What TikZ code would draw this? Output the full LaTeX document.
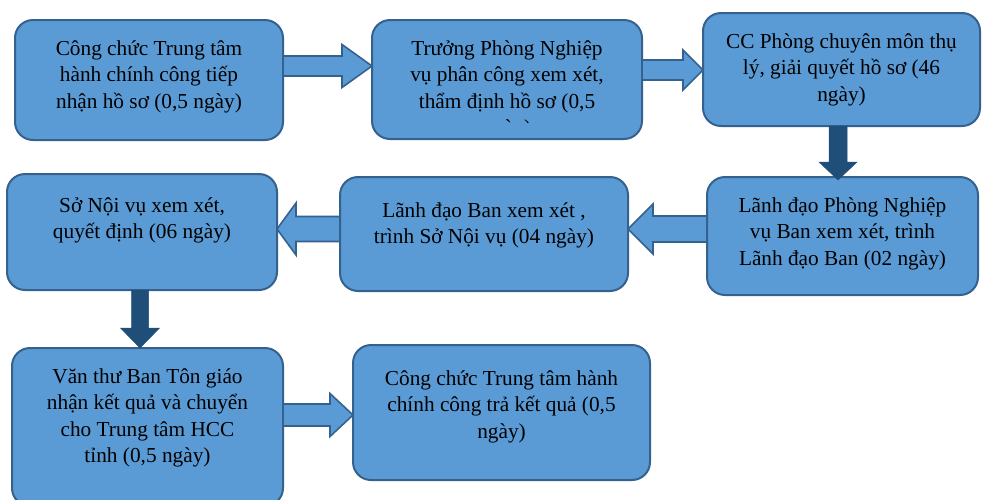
\documentclass[tikz,border=0pt]{standalone}
\usepackage{fontspec}
\setmainfont{Liberation Serif}
\usetikzlibrary{calc}
\definecolor{boxfill}{HTML}{5B9BD5}
\definecolor{boxline}{HTML}{35618F}
\definecolor{darkarrow}{HTML}{1F4E79}
\newcommand\barrow[6]{%
  \coordinate (bah) at ($(#3)!#6pt!(#2)$);
  \draw[#1] ($(#2)!#4pt!90:(#3)$) -- ($(bah)!#4pt!90:(#3)$) -- ($(bah)!#5pt!90:(#3)$) -- (#3)
    -- ($(bah)!#5pt!-90:(#3)$) -- ($(bah)!#4pt!-90:(#3)$) -- ($(#2)!#4pt!-90:(#3)$) -- cycle;}
\begin{document}
\begin{tikzpicture}[x=1pt,y=-1pt,
  box/.style={rectangle, draw=boxline, fill=boxfill, line width=2pt, rounded corners=18pt, outer sep=0pt, inner sep=0pt},
  txt/.style={font=\fontsize{21.3}{26.5}\selectfont, align=center, inner sep=0pt, anchor=north},
  hollow/.style={draw=boxline, fill=boxfill, line width=1.6pt, line join=miter},
  darkblock/.style={fill=darkarrow, draw=darkarrow, line width=0.5pt}]
\useasboundingbox (0,0) rectangle (982,499);
% boxes
\node[box, minimum width=268pt, minimum height=120pt] (b1) at (149,80) {};
\node[box, minimum width=270pt, minimum height=119pt] (b2) at (507,79.5) {};
\node[box, minimum width=277pt, minimum height=113pt] (b3) at (841.5,69.5) {};
\node[box, minimum width=271pt, minimum height=118pt] (b4) at (842.5,236) {};
\node[box, minimum width=288pt, minimum height=114pt] (b5) at (484,234) {};
\node[box, minimum width=270pt, minimum height=116pt] (b6) at (142,232) {};
\node[box, minimum width=271pt, minimum height=158pt] (b7) at (147.5,427) {};
\node[box, minimum width=297pt, minimum height=135pt] (b8) at (501.5,412.5) {};
% helper levels
\coordinate (ya) at (0,66);
\coordinate (yb) at (0,70);
\coordinate (yc) at (0,229);
\coordinate (yd) at (0,415);
\coordinate (xa) at (838,0);
\coordinate (xb) at (140,0);
% connectors
\coordinate (s12) at (b1.east |- ya); \coordinate (e12) at (b2.west |- ya);
\barrow{hollow}{s12}{e12}{10}{21.5}{30}
\coordinate (s23) at (b2.east |- yb); \coordinate (e23) at (b3.west |- yb);
\barrow{hollow}{s23}{e23}{10}{20}{20}
\coordinate (s45) at (b4.west |- yc); \coordinate (e45) at (b5.east |- yc);
\barrow{hollow}{s45}{e45}{13}{25}{25}
\coordinate (s56) at (b5.west |- yc); \coordinate (e56) at (b6.east |- yc);
\barrow{hollow}{s56}{e56}{12.5}{26}{19}
\coordinate (s78) at (b7.east |- yd); \coordinate (e78) at (b8.west |- yd);
\barrow{hollow}{s78}{e78}{11}{21.5}{23}
\coordinate (s34) at (xa |- b3.south); \coordinate (e34) at ($(xa |- b4.north)+(0,3)$);
\barrow{darkblock}{s34}{e34}{9}{19}{18}
\coordinate (s67) at (xb |- b6.south); \coordinate (e67) at ($(xb |- b7.north)+(0,0)$);
\barrow{darkblock}{s67}{e67}{8.5}{19.5}{20}
% texts
\node[txt] (t1) at ($(b1.north)+(0,16.5)$) {\strut Công chức Trung tâm\\hành chính công tiếp\\nhận hồ sơ (0,5 ngày)};
\begin{scope}
\clip (372,20) rectangle (642,122);
\node[txt] (t2) at ($(b2.north)+(0,16.5)$) {\strut Trưởng Phòng Nghiệp\\vụ phân công xem xét,\\thẩm định hồ sơ (0,5\\ngày)};
\end{scope}
\node[txt] (t3) at ($(b3.north)+(0,16.5)$) {\strut CC Phòng chuyên môn thụ\\lý, giải quyết hồ sơ (46\\ngày)};
\node[txt] (t4) at ($(b4.north)+(0,16.5)$) {\strut Lãnh đạo Phòng Nghiệp\\vụ Ban xem xét, trình\\Lãnh đạo Ban (02 ngày)};
\node[txt] (t5) at ($(b5.north)+(0,21.5)$) {\strut Lãnh đạo Ban xem xét ,\\trình Sở Nội vụ (04 ngày)};
\node[txt] (t6) at ($(b6.north)+(0,19.5)$) {\strut Sở Nội vụ xem xét,\\quyết định (06 ngày)};
\node[txt] (t7) at ($(b7.north)+(0,16.5)$) {\strut Văn thư Ban Tôn giáo\\nhận kết quả và chuyển\\cho Trung tâm HCC\\tỉnh (0,5 ngày)};
\node[txt] (t8) at ($(b8.north)+(0,21.5)$) {\strut Công chức Trung tâm hành\\chính công trả kết quả (0,5\\ngày)};
\end{tikzpicture}
\end{document}
